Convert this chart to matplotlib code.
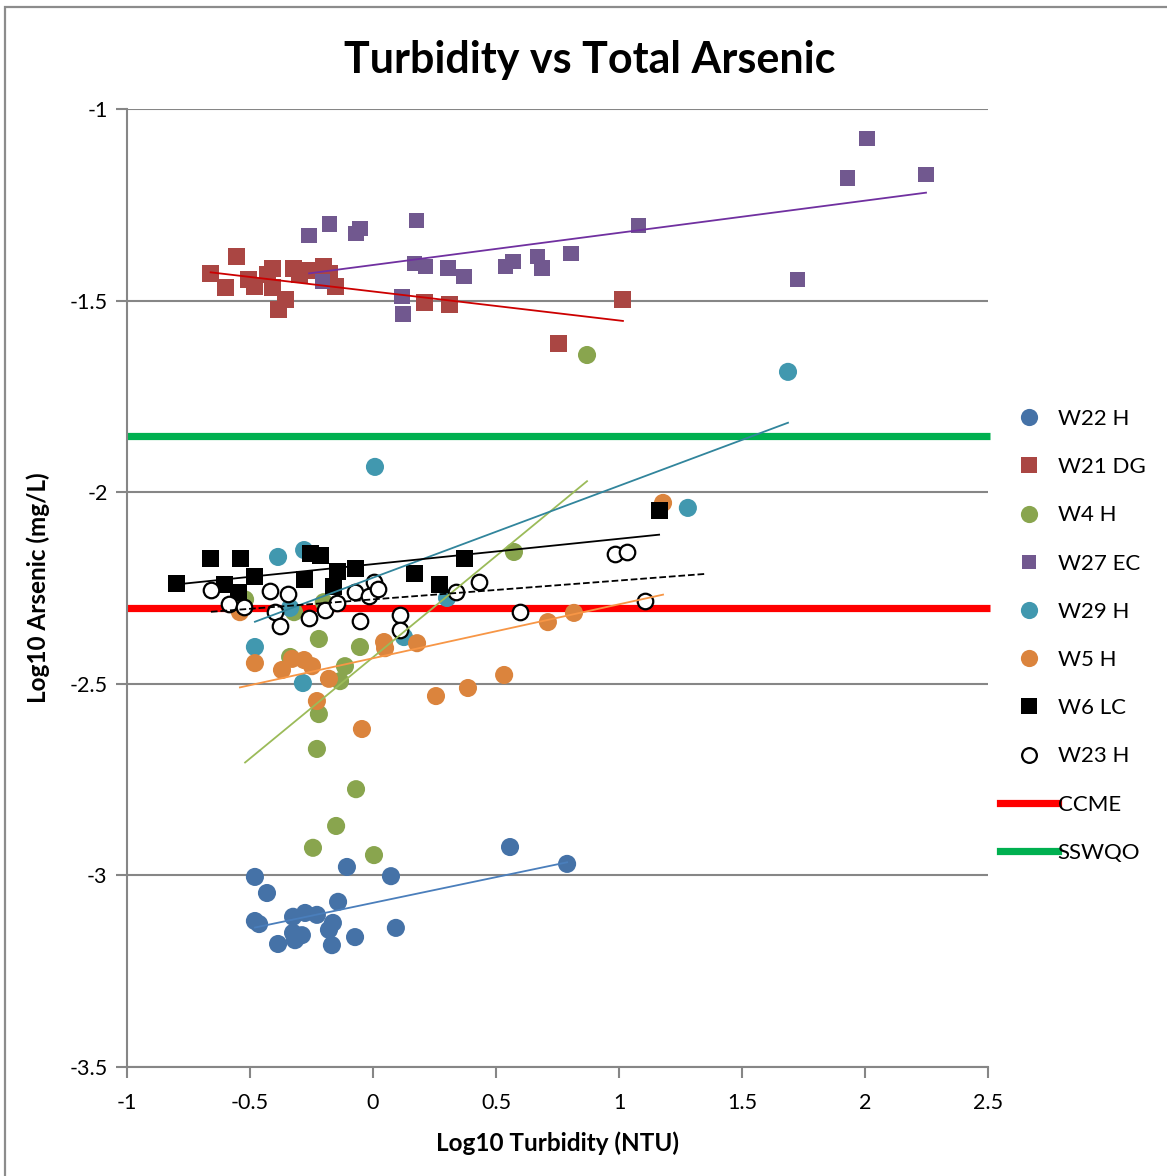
import numpy as np
import matplotlib
matplotlib.use("Agg")
import matplotlib.pyplot as plt
from matplotlib.lines import Line2D
from matplotlib.patches import Rectangle
from matplotlib.ticker import FuncFormatter

plt.rcParams['font.family'] = ['Lato', 'DejaVu Sans']

# log10 turbidity (NTU) / log10 total arsenic (mg/L) per station
w22_x = [-0.48, -0.431, -0.48, -0.463, -0.386, -0.325, -0.276, -0.228, -0.325, -0.289,
         -0.317, -0.142, -0.163, -0.179, -0.167, -0.106, -0.073, 0.073, 0.093, 0.557, 0.789]
w22_y = [-3.004, -3.046, -3.119, -3.127, -3.179, -3.108, -3.098, -3.103, -3.15, -3.156,
         -3.169, -3.069, -3.124, -3.142, -3.182, -2.978, -3.161, -3.002, -3.137, -2.926, -2.97]

w21_x = [-0.66, -0.60, -0.553, -0.508, -0.48, -0.43, -0.407, -0.407, -0.354, -0.386,
         -0.325, -0.297, -0.256, -0.2, -0.175, -0.154, 0.211, 0.309, 1.016, 0.756]
w21_y = [-1.43, -1.467, -1.386, -1.444, -1.464, -1.433, -1.417, -1.467, -1.496, -1.522,
         -1.417, -1.433, -1.422, -1.412, -1.43, -1.464, -1.506, -1.509, -1.498, -1.611]

w4_x = [-0.228, -0.069, -0.15, -0.244, 0.004, -0.22, -0.053, -0.337, -0.114, -0.134,
        -0.22, 0.573, -0.2, -0.321, -0.52, 0.87]
w4_y = [-2.67, -2.775, -2.871, -2.928, -2.947, -2.383, -2.404, -2.43, -2.454, -2.493,
        -2.579, -2.156, -2.287, -2.313, -2.28, -1.642]

w27_x = [-0.26, -0.175, -0.053, -0.069, 0.175, -0.207, 0.167, 0.215, 0.305, 0.37,
         0.118, 0.122, 0.537, 0.569, 0.667, 0.687, 0.805, 1.081, 1.724, 1.93, 2.008, 2.248]
w27_y = [-1.329, -1.30, -1.313, -1.326, -1.29, -1.451, -1.402, -1.412, -1.415, -1.438,
         -1.49, -1.535, -1.412, -1.399, -1.384, -1.415, -1.378, -1.303, -1.446, -1.18, -1.078, -1.172]

w29_x = [-0.386, -0.28, -0.48, -0.337, 0.126, 0.301, -0.285, 0.008, 1.687, 1.28]
w29_y = [-2.169, -2.151, -2.404, -2.302, -2.378, -2.276, -2.498, -1.934, -1.686, -2.041]

w5_x = [-0.541, -0.48, -0.37, -0.329, -0.28, -0.248, -0.179, -0.228, -0.045, 0.045,
        0.049, 0.179, 0.256, 0.386, 0.533, 0.711, 0.817, 1.179]
w5_y = [-2.313, -2.446, -2.464, -2.435, -2.438, -2.454, -2.487, -2.545, -2.618, -2.391,
        -2.407, -2.394, -2.532, -2.511, -2.477, -2.339, -2.315, -2.028]

w6_x = [-0.797, -0.659, -0.537, -0.602, -0.545, -0.48, -0.28, -0.256, -0.215, -0.146,
        -0.159, -0.073, 0.167, 0.272, 0.37, 1.163]
w6_y = [-2.237, -2.172, -2.172, -2.24, -2.263, -2.221, -2.227, -2.161, -2.166, -2.208,
        -2.247, -2.2, -2.211, -2.24, -2.174, -2.049]

w23_x = [-0.659, -0.585, -0.524, -0.419, -0.346, -0.398, -0.378, -0.26, -0.195, -0.146,
         -0.073, -0.016, 0.004, 0.02, -0.053, 0.11, 0.11, 0.337, 0.431, 0.598, 0.984, 1.033, 1.106]
w23_y = [-2.255, -2.292, -2.3, -2.258, -2.266, -2.313, -2.349, -2.328, -2.307, -2.289,
         -2.26, -2.271, -2.234, -2.253, -2.336, -2.32, -2.36, -2.26, -2.234, -2.313, -2.161, -2.156, -2.284]

# guideline values (log10 mg/L)
ccme = -2.301
sswqo = -1.853
guide_x = [-1, 2.51]

fig = plt.figure(figsize=(11.67, 11.76), dpi=100)
W, H = 1167, 1176
ax = fig.add_axes([127 / W, 1 - 1067 / H, (988 - 127) / W, (1067 - 109) / H])

ax.plot(guide_x, [ccme, ccme], color='#ff0000', lw=5.2, zorder=1, solid_capstyle='butt', clip_on=False)
ax.plot(guide_x, [sswqo, sswqo], color='#00b050', lw=5.2, zorder=1, solid_capstyle='butt', clip_on=False)

# name, x, y, marker, size, face, edge, trend colour, trend style, forward forecast
series = [
    ('W22 H', w22_x, w22_y, 'o', 170, '#4572a7', 'none', '#4a7ebb', '-', 0),
    ('W21 DG', w21_x, w21_y, 's', 150, '#aa4643', 'none', '#cc0000', '-', 0),
    ('W4 H', w4_x, w4_y, 'o', 170, '#89a54e', 'none', '#9bbb59', '-', 0),
    ('W27 EC', w27_x, w27_y, 's', 118, '#71588f', 'none', '#7030a0', '-', 0),
    ('W29 H', w29_x, w29_y, 'o', 170, '#4198af', 'none', '#31859c', '-', 0),
    ('W5 H', w5_x, w5_y, 'o', 170, '#db843d', 'none', '#f79646', '-', 0),
    ('W6 LC', w6_x, w6_y, 's', 150, '#000000', 'none', '#000000', '-', 0),
    ('W23 H', w23_x, w23_y, 'o', 125, '#ffffff', '#000000', '#000000', '--', 0.25),
]

handles = []
for name, x, y, mk, s, fc, ec, tc, ls, fwd in series:
    x = np.array(x)
    y = np.array(y)
    lw = 1.6 if ec != 'none' else 0
    ax.scatter(x, y, marker=mk, s=s, c=fc, edgecolors=ec, linewidths=lw, zorder=2)
    k, b = np.polyfit(x, y, 1)
    tx = np.array([x.min(), x.max() + fwd])
    ax.plot(tx, k * tx + b, color=tc, lw=1.3, ls=ls, zorder=3)
    handles.append(Line2D([], [], ls='none', marker=mk, markersize=np.sqrt(s) * 0.95,
                          markerfacecolor=fc, markeredgecolor=ec if ec != 'none' else fc,
                          markeredgewidth=lw, label=name))
handles.append(Line2D([], [], color='#ff0000', lw=5.2, label='CCME'))
handles.append(Line2D([], [], color='#00b050', lw=5.2, label='SSWQO'))

ax.set_xlim(-1, 2.5)
ax.set_ylim(-3.5, -1)
ax.set_xticks(np.arange(-1, 2.51, 0.5))
ax.set_yticks(np.arange(-3.5, -0.99, 0.5))
fmt = FuncFormatter(lambda v, p: '%g' % round(v, 2))
ax.xaxis.set_major_formatter(fmt)
ax.yaxis.set_major_formatter(fmt)
ax.yaxis.grid(True, color='#868686', lw=1.5)
ax.set_axisbelow(True)
for side in ['top', 'right']:
    ax.spines[side].set_visible(False)
for side in ['left', 'bottom']:
    ax.spines[side].set_color('#868686')
    ax.spines[side].set_linewidth(1.5)
ax.tick_params(axis='both', colors='#868686', length=8, width=1.5, labelsize=15.5, labelcolor='black')
ax.tick_params(axis='x', pad=11)
ax.tick_params(axis='y', pad=6)

ax.set_xlabel('Log10 Turbidity (NTU)', fontsize=17.5, fontweight='bold', labelpad=13)
ax.set_ylabel('Log10 Arsenic (mg/L)', fontsize=17.5, fontweight='bold', labelpad=14)
fig.text(590 / W, 1 - 60 / H, 'Turbidity vs Total Arsenic', fontsize=31, fontweight='bold',
         ha='center', va='center')

fig.legend(handles=handles, loc='upper left', bbox_to_anchor=(991 / W, 1 - 400 / H),
           frameon=False, fontsize=16, handlelength=2.6, handletextpad=0.0,
           labelspacing=1.27, borderaxespad=0)

# outer chart frame
fig.patches.append(Rectangle((5 / W, -0.01), 1.02, 1 - 7 / H + 0.01, transform=fig.transFigure,
                             fill=False, edgecolor='#8c8c8c', lw=1.6))

fig.savefig('out.png', dpi=100)
